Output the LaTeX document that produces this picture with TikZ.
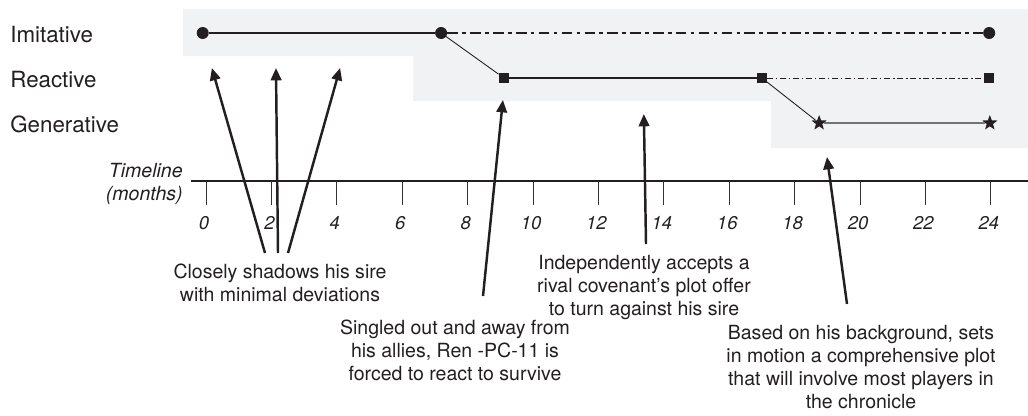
\documentclass[tikz,border=0pt]{standalone}
\usepackage{fontspec}
\setmainfont{TeX Gyre Heros}
\usetikzlibrary{arrows.meta,shapes.geometric}
\definecolor{bandgray}{HTML}{F1F2F4}
\definecolor{ink}{HTML}{231F20}

\begin{document}
\begin{tikzpicture}[
    every node/.style={text=ink},
    rowlabel/.style={anchor=base west, inner sep=0pt, font=\fontsize{12.7}{15}\selectfont},
    note/.style={anchor=north, inner sep=0pt, align=center, font=\fontsize{11.1}{13}\selectfont},
    pointer/.style={draw=ink, line width=1.4pt, -{Triangle[width=6pt,length=7pt]}},
    imit/.style={circle, fill=ink, inner sep=0pt, minimum size=0.24cm},
    react/.style={rectangle, fill=ink, inner sep=0pt, minimum size=0.2cm},
    gener/.style={star, star points=5, star point ratio=2.4, fill=ink, inner sep=0pt, minimum size=0.32cm},
    bigdashdot/.style={draw=ink, line width=1.2pt, dash pattern=on 6pt off 2.5pt on 2pt off 2.5pt},
    smalldashdot/.style={draw=ink, line width=0.5pt, dash pattern=on 3.2pt off 1.6pt on 1pt off 1.6pt},
    tick/.style={draw=black!80, line width=0.5pt},
    ticklabel/.style={font=\fontsize{10.5}{12}\selectfont\itshape, inner sep=0pt}
  ]
  \useasboundingbox (0,0) rectangle (20.56,8.3);

  \node[rowlabel] (imitative)  at (0.2,7.46) {Imitative};
  \node[rowlabel] (reactive)   at (0.2,6.56) {Reactive};
  \node[rowlabel] (generative) at (0.2,5.66) {Generative};

  \node[anchor=north east, align=right, inner sep=0pt,
        font=\fontsize{11.1}{13}\selectfont\itshape] (timeline) at (3.66,5.04) {Timeline\\(months)};

  \begin{scope}[xshift=4.12cm, x=0.654cm]
    \fill[bandgray] (-0.70,8.12) -- (25.14,8.12) -- (25.14,5.34) -- (17.28,5.34)
      -- (17.28,6.28) -- (6.33,6.28) -- (6.33,7.18) -- (-0.70,7.18) -- cycle;

    \draw[ink, line width=0.6pt] (-0.46,4.68) -- (25.14,4.68);
    \foreach \m in {0,2,...,24} {
      \draw[tick] (\m,4.68) -- (\m,4.20);
      \node[ticklabel] (m\m) at (\m-0.06,3.84) {\m};
    }

    \node[imit]  (i0) at (-0.1,7.64) {};
    \node[imit]  (i1) at (7.19,7.64) {};
    \node[imit]  (i2) at (23.95,7.64) {};
    \node[react] (r0) at (9.11,6.74) {};
    \node[react] (r1) at (17.0,6.74) {};
    \node[react] (r2) at (23.95,6.74) {};
    \node[gener] (g0) at (18.75,5.84) {};
    \node[gener] (g1) at (23.97,5.84) {};

    \draw[ink, line width=1.1pt] (i0) -- (i1);
    \draw[bigdashdot] (i1) -- (i2);
    \draw[ink, line width=0.5pt] (i1.center) -- (r0);
    \draw[ink, line width=0.65pt] (r0) -- (r1);
    \draw[smalldashdot] (r1) -- (r2);
    \draw[ink, line width=0.5pt] (r1.center) -- (g0);
    \draw[ink, line width=0.4pt, double=black!55, double distance=0.6pt] (g0) -- (g1);

    \coordinate (tipA1) at (0.18,6.94);
    \coordinate (tipA2) at (2.14,6.94);
    \coordinate (tipA3) at (4.10,6.94);
    \coordinate (tipC)  at (9.08,6.30);
    \coordinate (tipB)  at (13.39,6.02);
    \coordinate (tipD)  at (18.99,5.16);
  \end{scope}

  \node[note] (closely) at (5.60,3.02) {Closely shadows his sire\\with minimal deviations};
  \node[note] (rival)   at (12.88,3.20) {Independently accepts a\\rival covenant’s plot offer\\to turn against his sire};
  \node[note] (singled) at (9.10,1.90) {Singled out and away from\\his allies, Ren -PC-11 is\\forced to react to survive};
  \node[note] (based)   at (17.22,1.80) {Based on his background, sets\\in motion a comprehensive plot\\that will involve most players in\\the chronicle};

  \draw[pointer] ([xshift=-0.30cm,yshift=0.22cm]closely.north) -- (tipA1);
  \draw[pointer] ([xshift=-0.04cm,yshift=0.22cm]closely.north) -- (tipA2);
  \draw[pointer] ([xshift=0.16cm,yshift=0.22cm]closely.north)  -- (tipA3);
  \draw[pointer] ([xshift=0.56cm,yshift=0.48cm]singled.north)  -- (tipC);
  \draw[pointer] ([xshift=0.04cm,yshift=0.22cm]rival.north)    -- (tipB);
  \draw[pointer] ([xshift=-0.28cm,yshift=0.42cm]based.north)   -- (tipD);
\end{tikzpicture}
\end{document}
